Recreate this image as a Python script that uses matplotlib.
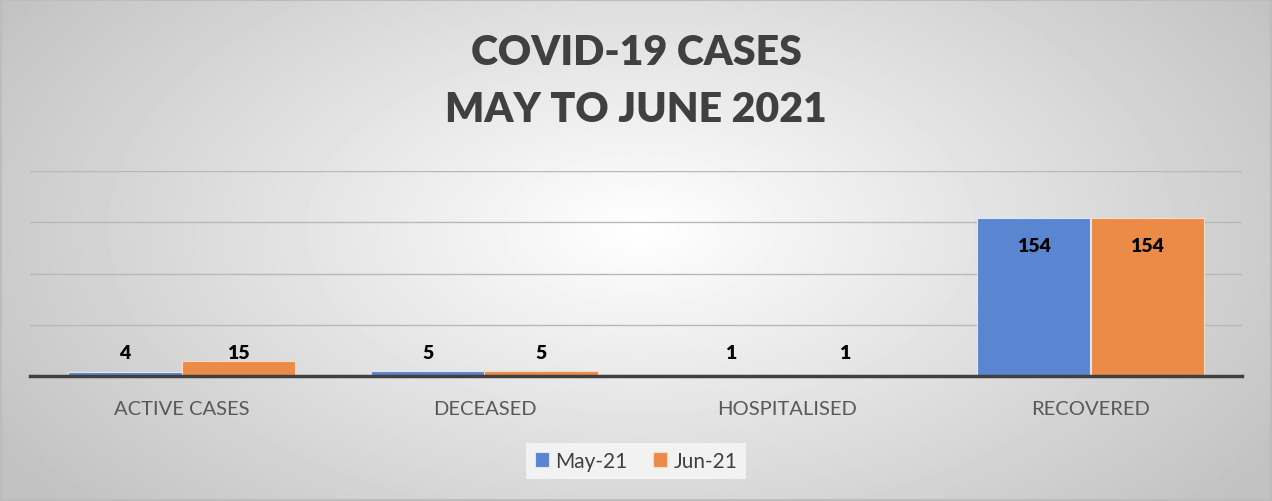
import matplotlib.pyplot as plt
import numpy as np

categories = ["ACTIVE CASES", "DECEASED", "HOSPITALISED", "RECOVERED"]
may_21 = [4, 5, 1, 154]
jun_21 = [15, 5, 1, 154]
series_names = ["May-21", "Jun-21"]
yticks = [0, 50, 100, 150, 200]

fig = plt.figure(figsize=(12.72, 5.02), dpi=100)

# radial gradient background
bg = fig.add_axes([0, 0, 1, 1], zorder=-10)
h, w = 502, 1272
yy, xx = np.mgrid[0:h, 0:w]
r = np.sqrt(((xx - 640) / 760.0) ** 2 + ((yy - 230) / 420.0) ** 2)
shade = np.clip(1.0 - 0.24 * r, 0.76, 1.0)
bg.imshow(shade, cmap="gray", vmin=0, vmax=1, aspect="auto", extent=[0, 1, 0, 1])
bg.axis("off")
bg.add_patch(plt.Rectangle((0.001, 0.002), 0.998, 0.996, fill=False,
                           edgecolor="#bdbdbd", lw=1.5, transform=bg.transAxes))

ax = fig.add_axes([30 / 1272, 125 / 502, 1212 / 1272, 205 / 502])
ax.patch.set_alpha(0)

x = np.arange(len(categories))
bw = 0.376
b1 = ax.bar(x - bw / 2, may_21, bw, color="#5A85D0", edgecolor="#dfe6f5", lw=0.8, zorder=3)
b2 = ax.bar(x + bw / 2, jun_21, bw, color="#EC8A48", edgecolor="#f8dcc8", lw=0.8, zorder=3)

for bars in (b1, b2):
    for b in bars:
        v = b.get_height()
        cx = b.get_x() + b.get_width() / 2
        if v > 100:
            ax.annotate(f"{v:g}", (cx, v), xytext=(0, -20), textcoords="offset points",
                        ha="center", va="center", fontsize=14, weight=800,
                        family="Lato", color="black", zorder=5)
        else:
            ax.text(cx, max(v + 8, 23), f"{v:g}", ha="center", va="center",
                    fontsize=14, weight=800, family="Lato",
                    color="black", zorder=5)

ax.set_xlim(-0.5, 3.5)
ax.set_ylim(0, 200)
ax.set_yticks(yticks)
ax.set_yticklabels([])
ax.tick_params(axis="y", length=0)
ax.grid(axis="y", color="#b8b8b8", lw=1, zorder=0)
ax.set_xticks(x)
ax.set_xticklabels(categories, fontsize=14.5, color="#595959", family="Lato")
ax.tick_params(axis="x", length=0, pad=17)
for s in ["top", "right", "left"]:
    ax.spines[s].set_visible(False)
ax.spines["bottom"].set_color("#404040")
ax.spines["bottom"].set_linewidth(2.5)
ax.spines["bottom"].set_zorder(4)

fig.text(0.5, 0.895, "COVID-19 CASES", ha="center", va="center", fontsize=29.5,
         weight=800, color="#404040", family="Lato")
fig.text(0.5, 0.780, "MAY TO JUNE 2021", ha="center", va="center", fontsize=29.5,
         weight=800, color="#404040", family="Lato")

leg = fig.legend([b1, b2], series_names, loc="center", bbox_to_anchor=(0.5, 0.08),
                 ncol=2, frameon=True, handlelength=0.7, handleheight=0.7,
                 handletextpad=0.3, columnspacing=1.2, fancybox=False,
                 prop={"family": "Lato", "size": 15})
leg.get_frame().set_facecolor("#f8f8f8")
leg.get_frame().set_edgecolor("none")
for t in leg.get_texts():
    t.set_color("#404040")

fig.savefig("out.png", dpi=100)
